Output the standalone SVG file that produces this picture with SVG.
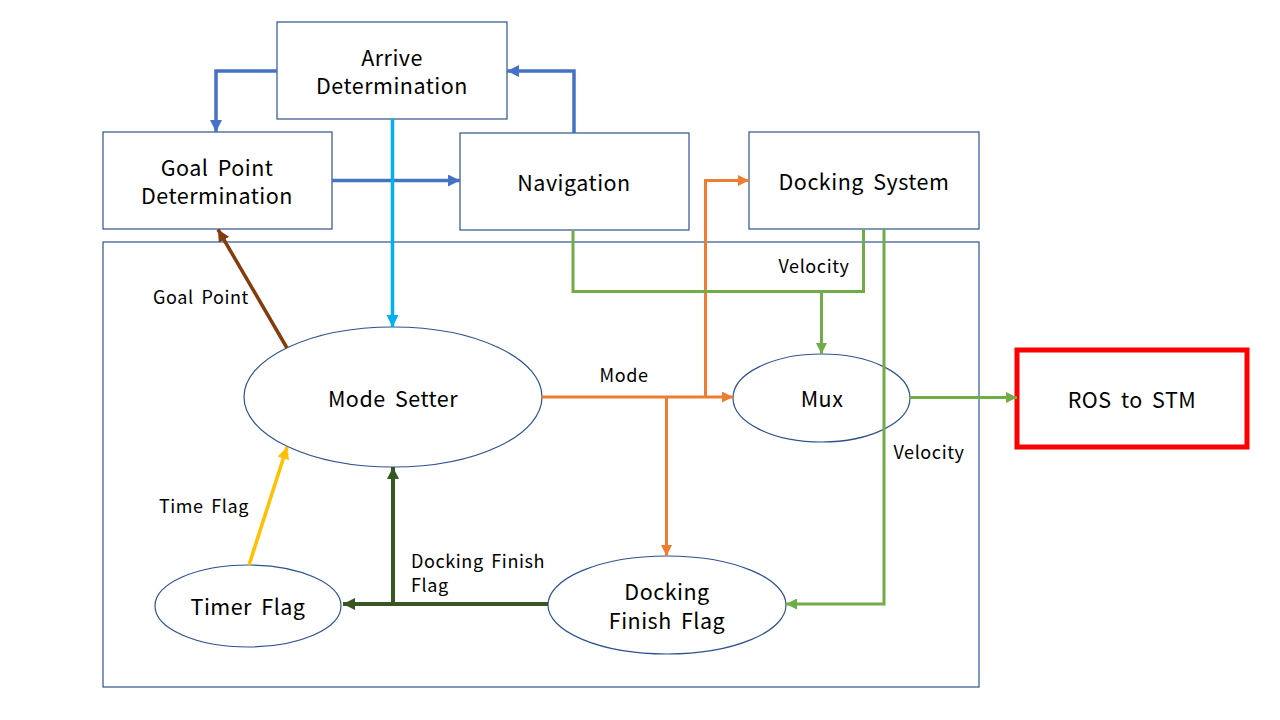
<svg xmlns="http://www.w3.org/2000/svg" width="1280" height="720" viewBox="0 0 1280 720">
<style>
.box{fill:#fff;stroke:#2F528F;stroke-width:1.2}
.frame{fill:none;stroke:#2F528F;stroke-width:1.2}
.t{font-family:"Noto Sans CJK KR","Noto Sans",sans-serif;font-size:21.5px;fill:#000;text-anchor:middle;letter-spacing:0.5px;word-spacing:4px}
.l{font-family:"Noto Sans CJK KR","Noto Sans",sans-serif;font-size:18px;fill:#000;letter-spacing:0.6px;word-spacing:3px}
.c{fill:none;stroke-linejoin:miter}
.blue{stroke:#4472C4;stroke-width:3.5}
.cyan{stroke:#00B0F0;stroke-width:3.5}
.orange{stroke:#ED7D31;stroke-width:3}
.green{stroke:#70AD47;stroke-width:3}
.dgreen{stroke:#375623;stroke-width:4}
.brown{stroke:#843C0C;stroke-width:3.5}
.yellow{stroke:#FFC000;stroke-width:3.5}
</style>
<defs>
<marker id="aBlue" viewBox="0 0 10 10" refX="10" refY="5" markerWidth="12" markerHeight="12" markerUnits="userSpaceOnUse" orient="auto"><path d="M0,0L10,5L0,10z" fill="#4472C4"/></marker>
<marker id="aCyan" viewBox="0 0 10 10" refX="10" refY="5" markerWidth="12" markerHeight="12" markerUnits="userSpaceOnUse" orient="auto"><path d="M0,0L10,5L0,10z" fill="#00B0F0"/></marker>
<marker id="aOrange" viewBox="0 0 10 10" refX="10" refY="5" markerWidth="11" markerHeight="11" markerUnits="userSpaceOnUse" orient="auto"><path d="M0,0L10,5L0,10z" fill="#ED7D31"/></marker>
<marker id="aGreen" viewBox="0 0 10 10" refX="10" refY="5" markerWidth="11" markerHeight="11" markerUnits="userSpaceOnUse" orient="auto"><path d="M0,0L10,5L0,10z" fill="#70AD47"/></marker>
<marker id="aDGreen" viewBox="0 0 10 10" refX="10" refY="5" markerWidth="12" markerHeight="12" markerUnits="userSpaceOnUse" orient="auto"><path d="M0,0L10,5L0,10z" fill="#375623"/></marker>
<marker id="aBrown" viewBox="0 0 10 10" refX="10" refY="5" markerWidth="12" markerHeight="12" markerUnits="userSpaceOnUse" orient="auto"><path d="M0,0L10,5L0,10z" fill="#843C0C"/></marker>
<marker id="aYellow" viewBox="0 0 10 10" refX="10" refY="5" markerWidth="12" markerHeight="12" markerUnits="userSpaceOnUse" orient="auto"><path d="M0,0L10,5L0,10z" fill="#FFC000"/></marker>
</defs>
<rect width="1280" height="720" fill="#fff"/>
<rect class="frame" x="103" y="242" width="876" height="445"/>
<g id="arrive"><rect class="box" x="277" y="22" width="230" height="97"/><text class="t" x="392" y="66">Arrive</text><text class="t" x="392" y="94">Determination</text></g>
<g id="goal"><rect class="box" x="103" y="132" width="229" height="97"/><text class="t" x="217" y="176">Goal Point</text><text class="t" x="217" y="204">Determination</text></g>
<g id="navigation"><rect class="box" x="460" y="133" width="229" height="97"/><text class="t" x="574" y="191">Navigation</text></g>
<g id="docking"><rect class="box" x="749" y="132" width="230" height="97"/><text class="t" x="864" y="190">Docking System</text></g>
<g id="modesetter"><ellipse class="box" cx="393" cy="397" rx="149" ry="70"/><text class="t" x="393" y="407">Mode Setter</text></g>
<g id="mux"><ellipse class="box" cx="821.5" cy="398" rx="88.5" ry="44"/><text class="t" x="822" y="407">Mux</text></g>
<g id="timer"><ellipse class="box" cx="248" cy="606" rx="93" ry="41"/><text class="t" x="248" y="615">Timer Flag</text></g>
<g id="dff"><ellipse class="box" cx="667" cy="605" rx="119" ry="49"/><text class="t" x="667" y="600">Docking</text><text class="t" x="667" y="628.5">Finish Flag</text></g>
<g id="ros"><rect x="1017" y="350" width="230" height="97" fill="#fff" stroke="#FF0000" stroke-width="5"/><text class="t" x="1132" y="408">ROS to STM</text></g>
<g id="connectors">
<path class="c blue" d="M277,71H216V132" marker-end="url(#aBlue)"/>
<path class="c blue" d="M332,180.5H460" marker-end="url(#aBlue)"/>
<path class="c blue" d="M574,133V71H507" marker-end="url(#aBlue)"/>
<path class="c cyan" d="M392.5,119V327" marker-end="url(#aCyan)"/>
<path class="c brown" d="M287,348L218,229.5" marker-end="url(#aBrown)"/>
<path class="c yellow" d="M249,565L287,447" marker-end="url(#aYellow)"/>
<path class="c dgreen" d="M548,604H343" marker-end="url(#aDGreen)"/>
<path class="c dgreen" d="M393,604V467" marker-end="url(#aDGreen)"/>
<path class="c orange" d="M542,397H733" marker-end="url(#aOrange)"/>
<path class="c orange" d="M705.5,397V180.5H749" marker-end="url(#aOrange)"/>
<path class="c orange" d="M666.5,397V556" marker-end="url(#aOrange)"/>
<path class="c green" d="M573,230V291.5H863.5V229"/>
<path class="c green" d="M821.5,291.5V354" marker-end="url(#aGreen)"/>
<path class="c green" d="M884,229V604H786" marker-end="url(#aGreen)"/>
<path class="c green" d="M910,397.5H1017" marker-end="url(#aGreen)"/>
</g>
<text class="l" x="201" y="304" text-anchor="middle">Goal Point</text>
<text class="l" x="814" y="273" text-anchor="middle">Velocity</text>
<text class="l" x="624" y="382" text-anchor="middle">Mode</text>
<text class="l" x="929" y="459" text-anchor="middle">Velocity</text>
<text class="l" x="204" y="513" text-anchor="middle">Time Flag</text>
<text class="l" x="411" y="568">Docking Finish</text>
<text class="l" x="411" y="592">Flag</text>
</svg>
